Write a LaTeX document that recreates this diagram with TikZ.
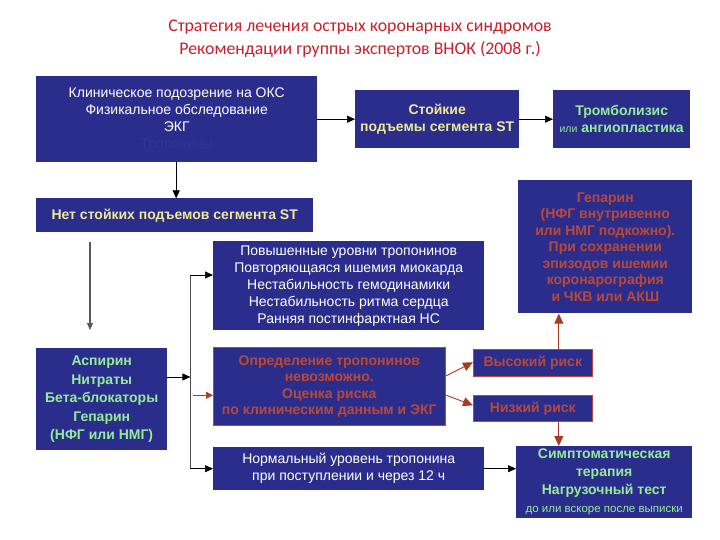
\documentclass[tikz,border=0pt]{standalone}
\usepackage{fontspec}
\setmainfont{Liberation Sans}
\newfontfamily\titlefont{Carlito}
\usepackage{xcolor}
\usetikzlibrary{arrows.meta,calc,positioning}

\definecolor{boxblue}{RGB}{43,45,140}
\definecolor{faintblue}{RGB}{47,53,158}
\definecolor{txtyellow}{RGB}{240,232,150}
\definecolor{txtgreen}{RGB}{150,235,150}
\definecolor{txtred}{RGB}{186,72,54}
\definecolor{ttlred}{RGB}{200,32,40}
\definecolor{arrred}{RGB}{172,58,32}

\begin{document}
\begin{tikzpicture}[
    x=1pt,
    y=-1pt,
    box/.style={
        fill=boxblue,
        anchor=north west,
        inner sep=0pt,
        align=center,
        text=white,
        font=\fontsize{14}{17}\selectfont
    },
    yellowbox/.style={
        box,
        text=txtyellow,
        font=\bfseries\fontsize{14}{17}\selectfont
    },
    greenbox/.style={
        box,
        text=txtgreen,
        font=\bfseries\fontsize{14}{18.5}\selectfont
    },
    redbox/.style={
        box,
        draw=txtred,
        line width=0.6pt,
        text=txtred,
        font=\bfseries\fontsize{14}{16.5}\selectfont
    },
    blackarrow/.style={
        draw=black,
        line width=0.7pt,
        -{Triangle[length=8pt,width=7pt]}
    },
    greyarrow/.style={
        draw=black!65,
        line width=1.1pt,
        -{Triangle[length=7pt,width=6pt]}
    },
    redarrow/.style={
        draw=arrred,
        line width=0.9pt,
        -{Triangle[length=10pt,width=9pt]}
    }
]
\useasboundingbox (0,0) rectangle (720,540);

% Title
\node[text=ttlred,align=center,font=\titlefont\fontsize{17.8}{23}\selectfont]
  (ttl) at (360,38.5)
  {Стратегия лечения острых коронарных синдромов\\
   Рекомендации группы экспертов ВНОК (2008 г.)};

% Top row
\node[box,minimum width=281pt,minimum height=86pt] (clin) at (36,76)
  {Клиническое подозрение на ОКС\\
   Физикальное обследование\\
   ЭКГ\\
   \textcolor{faintblue}{Тропонины}};

\node[yellowbox,minimum width=164pt,minimum height=58pt] (stst) at (355,90)
  {Стойкие\\подъемы сегмента ST};

\node[box,text=txtgreen,minimum width=137pt,minimum height=58pt,
      font=\fontsize{14}{17}\selectfont] (thrl) at (553,90)
  {\textbf{Тромболизис}\\
   {\fontsize{10.5}{17}\selectfont или} \textbf{ангиопластика}};

\node[yellowbox,minimum width=277pt,minimum height=34pt] (nost) at (36,198)
  {Нет стойких подъемов сегмента ST};

% Right column
\node[redbox,draw=none,minimum width=174pt,minimum height=133pt] (hep) at (518,180)
  {Гепарин\\
   (НФГ внутривенно\\
   или НМГ подкожно).\\
   При сохранении\\
   эпизодов ишемии\\
   коронарография\\
   и ЧКВ или АКШ};

% Middle blocks
\node[box,minimum width=271pt,minimum height=89pt] (risk) at (213,241)
  {Повышенные уровни тропонинов\\
   Повторяющаяся ишемия миокарда\\
   Нестабильность гемодинамики\\
   Нестабильность ритма сердца\\
   Ранняя постинфарктная НС};

\node[greenbox,minimum width=131pt,minimum height=102pt] (asp) at (36,348)
  {Аспирин\\Нитраты\\Бета-блокаторы\\Гепарин\\(НФГ или НМГ)};

\node[redbox,minimum width=232pt,minimum height=78pt] (trop) at (213,347)
  {Определение тропонинов\\
   невозможно.\\
   Оценка риска\\
   по клиническим данным и ЭКГ};

\node[redbox,minimum width=119pt,minimum height=27pt] (high) at (473,349)
  {Высокий риск};

\node[redbox,minimum width=119pt,minimum height=26pt] (low) at (473,395)
  {Низкий риск};

\node[box,minimum width=271pt,minimum height=43pt] (norm) at (213,447)
  {Нормальный уровень тропонина\\
   при поступлении и через 12 ч};

\node[box,text=txtgreen,minimum width=176pt,minimum height=72pt,
      font=\fontsize{14}{18}\selectfont] (symp) at (516,446)
  {\textbf{Симптоматическая}\\
   \textbf{терапия}\\
   \textbf{Нагрузочный тест}\\
   {\fontsize{11.5}{15}\selectfont до или вскоре после выписки}};

% Connectors
\draw[blackarrow] (clin) -- (stst);
\draw[blackarrow] (stst) -- (thrl);
\draw[blackarrow] (clin.south -| nost.north) ++(1.5,0) -- ++(0,36);

\coordinate (nostout) at ($(nost.south west)+(54,10)$);
\coordinate (aspin) at ($(asp.north west)+(54,-18)$);
\draw[greyarrow] (nostout) -- (aspin);

\coordinate (bus) at ($(asp.north east)+(23,29)$);
\coordinate (bustop) at (bus |- risk.north);
\coordinate (bustop) at ($(bustop)+(0,34)$);
\coordinate (busbot) at (bus |- norm.west);
\draw[blackarrow] (asp.east |- bus) -- (bus);
\draw[draw=black!70,line width=1pt] (bustop) -- (busbot);
\draw[blackarrow] (bustop) -- (bustop -| risk.west);
\draw[blackarrow] (busbot) -- (norm.west);
\draw[redarrow,line width=0.6pt,-{Triangle[length=7pt,width=7pt]}]
  ($(trop.west)+(-20,9)$) -- ($(trop.west)+(0,9)$);

\draw[redarrow] ($(trop.north east)+(0,29)$) -- ($(high.west)+(0,-0.5)$);
\draw[redarrow] ($(trop.north east)+(0,48)$) -- ($(low.west)+(0,-3)$);
\draw[redarrow] ([xshift=26pt]high.north) -- ([xshift=26pt]high.north |- hep.south);
\draw[redarrow] ([xshift=26pt]low.south) -- ([xshift=26pt]low.south |- symp.north);
\draw[blackarrow] (norm.east) -- (norm.east -| symp.west);

\end{tikzpicture}
\end{document}
